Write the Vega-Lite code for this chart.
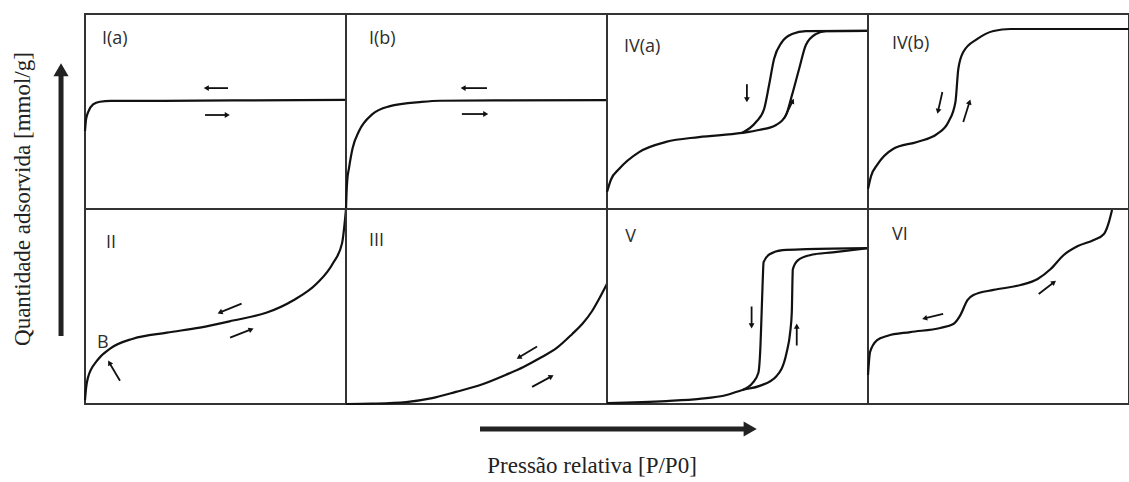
{
  "$schema": "https://vega.github.io/schema/vega-lite/v6.json",
  "padding": {"left": 0, "top": 13, "right": 0, "bottom": 0},
  "background": "white",
  "columns": 5,
  "spacing": 0,
  "bounds": "flush",
  "config": {
    "view": {"stroke": "#333333", "strokeWidth": 2},
    "concat": {"spacing": 0},
    "line": {"interpolate": "monotone", "strokeWidth": 2.2, "color": "#111111"},
    "rule": {"strokeWidth": 1.8, "color": "#111111"},
    "point": {"shape": "triangle", "filled": true, "size": 34, "color": "#111111", "opacity": 1},
    "text": {"align": "left", "baseline": "middle", "font": "Open Sans", "fontSize": 18, "color": "#2e2e2e"}
  },
  "datasets": {
    "typeIa": [
      {"kind": "curve", "branch": "a", "x": 0, "y": 0.40},
      {"kind": "curve", "branch": "a", "x": 0.004, "y": 0.46},
      {"kind": "curve", "branch": "a", "x": 0.012, "y": 0.497},
      {"kind": "curve", "branch": "a", "x": 0.031, "y": 0.536},
      {"kind": "curve", "branch": "a", "x": 0.057, "y": 0.55},
      {"kind": "curve", "branch": "a", "x": 0.1, "y": 0.554},
      {"kind": "curve", "branch": "a", "x": 0.3, "y": 0.555},
      {"kind": "curve", "branch": "a", "x": 0.6, "y": 0.557},
      {"kind": "curve", "branch": "a", "x": 1, "y": 0.56},
      {"kind": "arrow", "x": 0.548, "y": 0.62, "x2": 0.468, "y2": 0.62, "angle": 270},
      {"kind": "arrow", "x": 0.46, "y": 0.482, "x2": 0.542, "y2": 0.482, "angle": 90},
      {"kind": "label", "x": 0.065, "y": 0.87, "label": "I(a)"}
    ],
    "typeIb": [
      {"kind": "curve", "branch": "a", "x": 0, "y": 0},
      {"kind": "curve", "branch": "a", "x": 0.002, "y": 0.08},
      {"kind": "curve", "branch": "a", "x": 0.005, "y": 0.15},
      {"kind": "curve", "branch": "a", "x": 0.0115, "y": 0.21},
      {"kind": "curve", "branch": "a", "x": 0.025, "y": 0.31},
      {"kind": "curve", "branch": "a", "x": 0.05, "y": 0.40},
      {"kind": "curve", "branch": "a", "x": 0.1, "y": 0.485},
      {"kind": "curve", "branch": "a", "x": 0.165, "y": 0.526},
      {"kind": "curve", "branch": "a", "x": 0.29, "y": 0.549},
      {"kind": "curve", "branch": "a", "x": 0.36, "y": 0.555},
      {"kind": "curve", "branch": "a", "x": 0.6, "y": 0.557},
      {"kind": "curve", "branch": "a", "x": 1, "y": 0.558},
      {"kind": "arrow", "x": 0.54, "y": 0.62, "x2": 0.452, "y2": 0.62, "angle": 270},
      {"kind": "arrow", "x": 0.444, "y": 0.487, "x2": 0.532, "y2": 0.487, "angle": 90},
      {"kind": "label", "x": 0.088, "y": 0.87, "label": "I(b)"}
    ],
    "typeIVa": [
      {"kind": "curve", "branch": "ads", "x": 0, "y": 0.087},
      {"kind": "curve", "branch": "ads", "x": 0.015, "y": 0.15},
      {"kind": "curve", "branch": "ads", "x": 0.046, "y": 0.205},
      {"kind": "curve", "branch": "ads", "x": 0.123, "y": 0.292},
      {"kind": "curve", "branch": "ads", "x": 0.226, "y": 0.344},
      {"kind": "curve", "branch": "ads", "x": 0.352, "y": 0.369},
      {"kind": "curve", "branch": "ads", "x": 0.517, "y": 0.39},
      {"kind": "curve", "branch": "ads", "x": 0.582, "y": 0.405},
      {"kind": "curve", "branch": "ads", "x": 0.648, "y": 0.431},
      {"kind": "curve", "branch": "ads", "x": 0.686, "y": 0.482},
      {"kind": "curve", "branch": "ads", "x": 0.709, "y": 0.585},
      {"kind": "curve", "branch": "ads", "x": 0.736, "y": 0.718},
      {"kind": "curve", "branch": "ads", "x": 0.762, "y": 0.841},
      {"kind": "curve", "branch": "ads", "x": 0.8, "y": 0.897},
      {"kind": "curve", "branch": "ads", "x": 0.839, "y": 0.912},
      {"kind": "curve", "branch": "ads", "x": 1, "y": 0.913},
      {"kind": "curve", "branch": "des", "x": 0.517, "y": 0.39},
      {"kind": "curve", "branch": "des", "x": 0.571, "y": 0.446},
      {"kind": "curve", "branch": "des", "x": 0.602, "y": 0.513},
      {"kind": "curve", "branch": "des", "x": 0.621, "y": 0.636},
      {"kind": "curve", "branch": "des", "x": 0.64, "y": 0.769},
      {"kind": "curve", "branch": "des", "x": 0.67, "y": 0.856},
      {"kind": "curve", "branch": "des", "x": 0.709, "y": 0.897},
      {"kind": "curve", "branch": "des", "x": 0.762, "y": 0.912},
      {"kind": "curve", "branch": "des", "x": 1, "y": 0.913},
      {"kind": "arrow", "x": 0.536, "y": 0.64, "x2": 0.536, "y2": 0.565, "angle": 180},
      {"kind": "arrow", "x": 0.678, "y": 0.462, "x2": 0.71, "y2": 0.55, "angle": 26},
      {"kind": "label", "x": 0.065, "y": 0.83, "label": "IV(a)"}
    ],
    "typeIVb": [
      {"kind": "curve", "branch": "a", "x": 0, "y": 0.103},
      {"kind": "curve", "branch": "a", "x": 0.012, "y": 0.17},
      {"kind": "curve", "branch": "a", "x": 0.035, "y": 0.226},
      {"kind": "curve", "branch": "a", "x": 0.096, "y": 0.308},
      {"kind": "curve", "branch": "a", "x": 0.188, "y": 0.344},
      {"kind": "curve", "branch": "a", "x": 0.265, "y": 0.385},
      {"kind": "curve", "branch": "a", "x": 0.308, "y": 0.446},
      {"kind": "curve", "branch": "a", "x": 0.335, "y": 0.549},
      {"kind": "curve", "branch": "a", "x": 0.346, "y": 0.718},
      {"kind": "curve", "branch": "a", "x": 0.365, "y": 0.805},
      {"kind": "curve", "branch": "a", "x": 0.419, "y": 0.872},
      {"kind": "curve", "branch": "a", "x": 0.481, "y": 0.913},
      {"kind": "curve", "branch": "a", "x": 0.546, "y": 0.923},
      {"kind": "curve", "branch": "a", "x": 1, "y": 0.923},
      {"kind": "arrow", "x": 0.285, "y": 0.6, "x2": 0.269, "y2": 0.505, "angle": 193},
      {"kind": "arrow", "x": 0.365, "y": 0.446, "x2": 0.388, "y2": 0.545, "angle": 18},
      {"kind": "label", "x": 0.092, "y": 0.846, "label": "IV(b)"}
    ],
    "typeII": [
      {"kind": "curve", "branch": "a", "x": 0, "y": 0.02},
      {"kind": "curve", "branch": "a", "x": 0.004, "y": 0.08},
      {"kind": "curve", "branch": "a", "x": 0.011, "y": 0.134},
      {"kind": "curve", "branch": "a", "x": 0.046, "y": 0.222},
      {"kind": "curve", "branch": "a", "x": 0.096, "y": 0.284},
      {"kind": "curve", "branch": "a", "x": 0.184, "y": 0.335},
      {"kind": "curve", "branch": "a", "x": 0.314, "y": 0.366},
      {"kind": "curve", "branch": "a", "x": 0.44, "y": 0.392},
      {"kind": "curve", "branch": "a", "x": 0.567, "y": 0.428},
      {"kind": "curve", "branch": "a", "x": 0.697, "y": 0.469},
      {"kind": "curve", "branch": "a", "x": 0.797, "y": 0.531},
      {"kind": "curve", "branch": "a", "x": 0.889, "y": 0.619},
      {"kind": "curve", "branch": "a", "x": 0.95, "y": 0.722},
      {"kind": "curve", "branch": "a", "x": 0.985, "y": 0.825},
      {"kind": "curve", "branch": "a", "x": 0.996, "y": 0.943},
      {"kind": "curve", "branch": "a", "x": 1, "y": 1},
      {"kind": "arrow", "x": 0.6, "y": 0.515, "x2": 0.52, "y2": 0.471, "angle": 247},
      {"kind": "arrow", "x": 0.556, "y": 0.34, "x2": 0.634, "y2": 0.381, "angle": 68},
      {"kind": "arrow", "x": 0.134, "y": 0.119, "x2": 0.095, "y2": 0.208, "angle": 330},
      {"kind": "label", "x": 0.08, "y": 0.825, "label": "II"},
      {"kind": "label", "x": 0.046, "y": 0.314, "label": "B"}
    ],
    "typeIII": [
      {"kind": "curve", "branch": "a", "x": 0, "y": 0},
      {"kind": "curve", "branch": "a", "x": 0.1, "y": 0.002},
      {"kind": "curve", "branch": "a", "x": 0.23, "y": 0.01},
      {"kind": "curve", "branch": "a", "x": 0.33, "y": 0.03},
      {"kind": "curve", "branch": "a", "x": 0.421, "y": 0.062},
      {"kind": "curve", "branch": "a", "x": 0.52, "y": 0.1},
      {"kind": "curve", "branch": "a", "x": 0.613, "y": 0.15},
      {"kind": "curve", "branch": "a", "x": 0.68, "y": 0.19},
      {"kind": "curve", "branch": "a", "x": 0.74, "y": 0.233},
      {"kind": "curve", "branch": "a", "x": 0.81, "y": 0.29},
      {"kind": "curve", "branch": "a", "x": 0.866, "y": 0.358},
      {"kind": "curve", "branch": "a", "x": 0.905, "y": 0.41},
      {"kind": "curve", "branch": "a", "x": 0.943, "y": 0.477},
      {"kind": "curve", "branch": "a", "x": 0.97, "y": 0.54},
      {"kind": "curve", "branch": "a", "x": 1, "y": 0.617},
      {"kind": "arrow", "x": 0.732, "y": 0.295, "x2": 0.665, "y2": 0.241, "angle": 239},
      {"kind": "arrow", "x": 0.713, "y": 0.088, "x2": 0.784, "y2": 0.139, "angle": 62},
      {"kind": "label", "x": 0.088, "y": 0.834, "label": "III"}
    ],
    "typeV": [
      {"kind": "curve", "branch": "ads", "x": 0, "y": 0.005},
      {"kind": "curve", "branch": "ads", "x": 0.227, "y": 0.015},
      {"kind": "curve", "branch": "ads", "x": 0.354, "y": 0.026},
      {"kind": "curve", "branch": "ads", "x": 0.458, "y": 0.046},
      {"kind": "curve", "branch": "ads", "x": 0.519, "y": 0.072},
      {"kind": "curve", "branch": "ads", "x": 0.585, "y": 0.093},
      {"kind": "curve", "branch": "ads", "x": 0.65, "y": 0.144},
      {"kind": "curve", "branch": "ads", "x": 0.688, "y": 0.263},
      {"kind": "curve", "branch": "ads", "x": 0.702, "y": 0.37},
      {"kind": "curve", "branch": "ads", "x": 0.708, "y": 0.469},
      {"kind": "curve", "branch": "ads", "x": 0.712, "y": 0.691},
      {"kind": "curve", "branch": "ads", "x": 0.731, "y": 0.737},
      {"kind": "curve", "branch": "ads", "x": 0.777, "y": 0.763},
      {"kind": "curve", "branch": "ads", "x": 0.865, "y": 0.778},
      {"kind": "curve", "branch": "ads", "x": 1, "y": 0.799},
      {"kind": "curve", "branch": "des", "x": 0.519, "y": 0.072},
      {"kind": "curve", "branch": "des", "x": 0.558, "y": 0.108},
      {"kind": "curve", "branch": "des", "x": 0.58, "y": 0.16},
      {"kind": "curve", "branch": "des", "x": 0.588, "y": 0.3},
      {"kind": "curve", "branch": "des", "x": 0.592, "y": 0.45},
      {"kind": "curve", "branch": "des", "x": 0.596, "y": 0.608},
      {"kind": "curve", "branch": "des", "x": 0.6, "y": 0.727},
      {"kind": "curve", "branch": "des", "x": 0.623, "y": 0.768},
      {"kind": "curve", "branch": "des", "x": 0.673, "y": 0.789},
      {"kind": "curve", "branch": "des", "x": 0.765, "y": 0.794},
      {"kind": "curve", "branch": "des", "x": 1, "y": 0.799},
      {"kind": "arrow", "x": 0.554, "y": 0.5, "x2": 0.554, "y2": 0.405, "angle": 180},
      {"kind": "arrow", "x": 0.727, "y": 0.3, "x2": 0.727, "y2": 0.395, "angle": 0},
      {"kind": "label", "x": 0.07, "y": 0.856, "label": "V"}
    ],
    "typeVI": [
      {"kind": "curve", "branch": "a", "x": 0, "y": 0.149},
      {"kind": "curve", "branch": "a", "x": 0.008, "y": 0.267},
      {"kind": "curve", "branch": "a", "x": 0.035, "y": 0.328},
      {"kind": "curve", "branch": "a", "x": 0.073, "y": 0.349},
      {"kind": "curve", "branch": "a", "x": 0.162, "y": 0.369},
      {"kind": "curve", "branch": "a", "x": 0.277, "y": 0.39},
      {"kind": "curve", "branch": "a", "x": 0.327, "y": 0.41},
      {"kind": "curve", "branch": "a", "x": 0.354, "y": 0.456},
      {"kind": "curve", "branch": "a", "x": 0.381, "y": 0.533},
      {"kind": "curve", "branch": "a", "x": 0.404, "y": 0.559},
      {"kind": "curve", "branch": "a", "x": 0.481, "y": 0.585},
      {"kind": "curve", "branch": "a", "x": 0.585, "y": 0.61},
      {"kind": "curve", "branch": "a", "x": 0.65, "y": 0.641},
      {"kind": "curve", "branch": "a", "x": 0.7, "y": 0.692},
      {"kind": "curve", "branch": "a", "x": 0.75, "y": 0.764},
      {"kind": "curve", "branch": "a", "x": 0.804, "y": 0.81},
      {"kind": "curve", "branch": "a", "x": 0.865, "y": 0.841},
      {"kind": "curve", "branch": "a", "x": 0.904, "y": 0.872},
      {"kind": "curve", "branch": "a", "x": 0.923, "y": 0.933},
      {"kind": "curve", "branch": "a", "x": 0.935, "y": 0.995},
      {"kind": "arrow", "x": 0.288, "y": 0.462, "x2": 0.22, "y2": 0.44, "angle": 256},
      {"kind": "arrow", "x": 0.654, "y": 0.564, "x2": 0.71, "y2": 0.622, "angle": 52},
      {"kind": "label", "x": 0.092, "y": 0.867, "label": "VI"}
    ]
  },
  "concat": [
    {
      "width": 85,
      "height": 195,
      "view": {"stroke": null},
      "layer": [
        {
          "data": {"values": [{"x": 0.718, "y": -0.651, "x2": 0.718, "y2": 0.682}]},
          "mark": {"type": "rule", "strokeWidth": 5, "color": "#222222"},
          "encoding": {
            "x": {"field": "x", "type": "quantitative", "scale": {"domain": [0, 1]}, "axis": null},
            "y": {"field": "y", "type": "quantitative", "scale": {"domain": [0, 1]}, "axis": null},
            "x2": {"field": "x2"}, "y2": {"field": "y2"}
          }
        },
        {
          "data": {"values": [{"x": 0.718, "y": 0.703, "angle": 0}]},
          "mark": {"type": "point", "size": 230, "color": "#222222"},
          "encoding": {
            "x": {"field": "x", "type": "quantitative", "scale": {"domain": [0, 1]}, "axis": null},
            "y": {"field": "y", "type": "quantitative", "scale": {"domain": [0, 1]}, "axis": null},
            "angle": {"field": "angle", "type": "quantitative", "scale": null}
          }
        }
      ]
    },
    {"width": 261, "height": 195, "data": {"name": "typeIa"}, "layer": [
      {"transform": [{"filter": "datum.kind === 'curve'"}], "mark": "line", "encoding": {"x": {"field": "x", "type": "quantitative", "scale": {"domain": [0, 1]}, "axis": null}, "y": {"field": "y", "type": "quantitative", "scale": {"domain": [0, 1]}, "axis": null}, "detail": {"field": "branch"}}},
      {"transform": [{"filter": "datum.kind === 'arrow'"}], "mark": "rule", "encoding": {"x": {"field": "x", "type": "quantitative", "scale": {"domain": [0, 1]}, "axis": null}, "y": {"field": "y", "type": "quantitative", "scale": {"domain": [0, 1]}, "axis": null}, "x2": {"field": "x2"}, "y2": {"field": "y2"}}},
      {"transform": [{"filter": "datum.kind === 'arrow'"}], "mark": "point", "encoding": {"x": {"field": "x2", "type": "quantitative", "scale": {"domain": [0, 1]}, "axis": null}, "y": {"field": "y2", "type": "quantitative", "scale": {"domain": [0, 1]}, "axis": null}, "angle": {"field": "angle", "type": "quantitative", "scale": null}}},
      {"transform": [{"filter": "datum.kind === 'label'"}], "mark": "text", "encoding": {"x": {"field": "x", "type": "quantitative", "scale": {"domain": [0, 1]}, "axis": null}, "y": {"field": "y", "type": "quantitative", "scale": {"domain": [0, 1]}, "axis": null}, "text": {"field": "label"}}}
    ]},
    {"width": 261, "height": 195, "data": {"name": "typeIb"}, "layer": [
      {"transform": [{"filter": "datum.kind === 'curve'"}], "mark": "line", "encoding": {"x": {"field": "x", "type": "quantitative", "scale": {"domain": [0, 1]}, "axis": null}, "y": {"field": "y", "type": "quantitative", "scale": {"domain": [0, 1]}, "axis": null}, "detail": {"field": "branch"}}},
      {"transform": [{"filter": "datum.kind === 'arrow'"}], "mark": "rule", "encoding": {"x": {"field": "x", "type": "quantitative", "scale": {"domain": [0, 1]}, "axis": null}, "y": {"field": "y", "type": "quantitative", "scale": {"domain": [0, 1]}, "axis": null}, "x2": {"field": "x2"}, "y2": {"field": "y2"}}},
      {"transform": [{"filter": "datum.kind === 'arrow'"}], "mark": "point", "encoding": {"x": {"field": "x2", "type": "quantitative", "scale": {"domain": [0, 1]}, "axis": null}, "y": {"field": "y2", "type": "quantitative", "scale": {"domain": [0, 1]}, "axis": null}, "angle": {"field": "angle", "type": "quantitative", "scale": null}}},
      {"transform": [{"filter": "datum.kind === 'label'"}], "mark": "text", "encoding": {"x": {"field": "x", "type": "quantitative", "scale": {"domain": [0, 1]}, "axis": null}, "y": {"field": "y", "type": "quantitative", "scale": {"domain": [0, 1]}, "axis": null}, "text": {"field": "label"}}}
    ]},
    {"width": 261, "height": 195, "data": {"name": "typeIVa"}, "layer": [
      {"transform": [{"filter": "datum.kind === 'curve'"}], "mark": "line", "encoding": {"x": {"field": "x", "type": "quantitative", "scale": {"domain": [0, 1]}, "axis": null}, "y": {"field": "y", "type": "quantitative", "scale": {"domain": [0, 1]}, "axis": null}, "detail": {"field": "branch"}}},
      {"transform": [{"filter": "datum.kind === 'arrow'"}], "mark": "rule", "encoding": {"x": {"field": "x", "type": "quantitative", "scale": {"domain": [0, 1]}, "axis": null}, "y": {"field": "y", "type": "quantitative", "scale": {"domain": [0, 1]}, "axis": null}, "x2": {"field": "x2"}, "y2": {"field": "y2"}}},
      {"transform": [{"filter": "datum.kind === 'arrow'"}], "mark": "point", "encoding": {"x": {"field": "x2", "type": "quantitative", "scale": {"domain": [0, 1]}, "axis": null}, "y": {"field": "y2", "type": "quantitative", "scale": {"domain": [0, 1]}, "axis": null}, "angle": {"field": "angle", "type": "quantitative", "scale": null}}},
      {"transform": [{"filter": "datum.kind === 'label'"}], "mark": "text", "encoding": {"x": {"field": "x", "type": "quantitative", "scale": {"domain": [0, 1]}, "axis": null}, "y": {"field": "y", "type": "quantitative", "scale": {"domain": [0, 1]}, "axis": null}, "text": {"field": "label"}}}
    ]},
    {"width": 261, "height": 195, "data": {"name": "typeIVb"}, "layer": [
      {"transform": [{"filter": "datum.kind === 'curve'"}], "mark": "line", "encoding": {"x": {"field": "x", "type": "quantitative", "scale": {"domain": [0, 1]}, "axis": null}, "y": {"field": "y", "type": "quantitative", "scale": {"domain": [0, 1]}, "axis": null}, "detail": {"field": "branch"}}},
      {"transform": [{"filter": "datum.kind === 'arrow'"}], "mark": "rule", "encoding": {"x": {"field": "x", "type": "quantitative", "scale": {"domain": [0, 1]}, "axis": null}, "y": {"field": "y", "type": "quantitative", "scale": {"domain": [0, 1]}, "axis": null}, "x2": {"field": "x2"}, "y2": {"field": "y2"}}},
      {"transform": [{"filter": "datum.kind === 'arrow'"}], "mark": "point", "encoding": {"x": {"field": "x2", "type": "quantitative", "scale": {"domain": [0, 1]}, "axis": null}, "y": {"field": "y2", "type": "quantitative", "scale": {"domain": [0, 1]}, "axis": null}, "angle": {"field": "angle", "type": "quantitative", "scale": null}}},
      {"transform": [{"filter": "datum.kind === 'label'"}], "mark": "text", "encoding": {"x": {"field": "x", "type": "quantitative", "scale": {"domain": [0, 1]}, "axis": null}, "y": {"field": "y", "type": "quantitative", "scale": {"domain": [0, 1]}, "axis": null}, "text": {"field": "label"}}}
    ]},
    {
      "width": 85,
      "height": 195,
      "view": {"stroke": null},
      "data": {"values": [{"x": 0.27, "y": 1.051, "label": "Quantidade adsorvida [mmol/g]"}]},
      "mark": {"type": "text", "angle": 270, "align": "center", "font": "Liberation Serif", "fontSize": 23, "color": "#222222"},
      "encoding": {
        "x": {"field": "x", "type": "quantitative", "scale": {"domain": [0, 1]}, "axis": null},
        "y": {"field": "y", "type": "quantitative", "scale": {"domain": [0, 1]}, "axis": null},
        "text": {"field": "label"}
      }
    },
    {"width": 261, "height": 195, "data": {"name": "typeII"}, "layer": [
      {"transform": [{"filter": "datum.kind === 'curve'"}], "mark": "line", "encoding": {"x": {"field": "x", "type": "quantitative", "scale": {"domain": [0, 1]}, "axis": null}, "y": {"field": "y", "type": "quantitative", "scale": {"domain": [0, 1]}, "axis": null}, "detail": {"field": "branch"}}},
      {"transform": [{"filter": "datum.kind === 'arrow'"}], "mark": "rule", "encoding": {"x": {"field": "x", "type": "quantitative", "scale": {"domain": [0, 1]}, "axis": null}, "y": {"field": "y", "type": "quantitative", "scale": {"domain": [0, 1]}, "axis": null}, "x2": {"field": "x2"}, "y2": {"field": "y2"}}},
      {"transform": [{"filter": "datum.kind === 'arrow'"}], "mark": "point", "encoding": {"x": {"field": "x2", "type": "quantitative", "scale": {"domain": [0, 1]}, "axis": null}, "y": {"field": "y2", "type": "quantitative", "scale": {"domain": [0, 1]}, "axis": null}, "angle": {"field": "angle", "type": "quantitative", "scale": null}}},
      {"transform": [{"filter": "datum.kind === 'label'"}], "mark": "text", "encoding": {"x": {"field": "x", "type": "quantitative", "scale": {"domain": [0, 1]}, "axis": null}, "y": {"field": "y", "type": "quantitative", "scale": {"domain": [0, 1]}, "axis": null}, "text": {"field": "label"}}}
    ]},
    {"width": 261, "height": 195, "data": {"name": "typeIII"}, "layer": [
      {"transform": [{"filter": "datum.kind === 'curve'"}], "mark": "line", "encoding": {"x": {"field": "x", "type": "quantitative", "scale": {"domain": [0, 1]}, "axis": null}, "y": {"field": "y", "type": "quantitative", "scale": {"domain": [0, 1]}, "axis": null}, "detail": {"field": "branch"}}},
      {"transform": [{"filter": "datum.kind === 'arrow'"}], "mark": "rule", "encoding": {"x": {"field": "x", "type": "quantitative", "scale": {"domain": [0, 1]}, "axis": null}, "y": {"field": "y", "type": "quantitative", "scale": {"domain": [0, 1]}, "axis": null}, "x2": {"field": "x2"}, "y2": {"field": "y2"}}},
      {"transform": [{"filter": "datum.kind === 'arrow'"}], "mark": "point", "encoding": {"x": {"field": "x2", "type": "quantitative", "scale": {"domain": [0, 1]}, "axis": null}, "y": {"field": "y2", "type": "quantitative", "scale": {"domain": [0, 1]}, "axis": null}, "angle": {"field": "angle", "type": "quantitative", "scale": null}}},
      {"transform": [{"filter": "datum.kind === 'label'"}], "mark": "text", "encoding": {"x": {"field": "x", "type": "quantitative", "scale": {"domain": [0, 1]}, "axis": null}, "y": {"field": "y", "type": "quantitative", "scale": {"domain": [0, 1]}, "axis": null}, "text": {"field": "label"}}}
    ]},
    {"width": 261, "height": 195, "data": {"name": "typeV"}, "layer": [
      {"transform": [{"filter": "datum.kind === 'curve'"}], "mark": "line", "encoding": {"x": {"field": "x", "type": "quantitative", "scale": {"domain": [0, 1]}, "axis": null}, "y": {"field": "y", "type": "quantitative", "scale": {"domain": [0, 1]}, "axis": null}, "detail": {"field": "branch"}}},
      {"transform": [{"filter": "datum.kind === 'arrow'"}], "mark": "rule", "encoding": {"x": {"field": "x", "type": "quantitative", "scale": {"domain": [0, 1]}, "axis": null}, "y": {"field": "y", "type": "quantitative", "scale": {"domain": [0, 1]}, "axis": null}, "x2": {"field": "x2"}, "y2": {"field": "y2"}}},
      {"transform": [{"filter": "datum.kind === 'arrow'"}], "mark": "point", "encoding": {"x": {"field": "x2", "type": "quantitative", "scale": {"domain": [0, 1]}, "axis": null}, "y": {"field": "y2", "type": "quantitative", "scale": {"domain": [0, 1]}, "axis": null}, "angle": {"field": "angle", "type": "quantitative", "scale": null}}},
      {"transform": [{"filter": "datum.kind === 'label'"}], "mark": "text", "encoding": {"x": {"field": "x", "type": "quantitative", "scale": {"domain": [0, 1]}, "axis": null}, "y": {"field": "y", "type": "quantitative", "scale": {"domain": [0, 1]}, "axis": null}, "text": {"field": "label"}}}
    ]},
    {"width": 261, "height": 195, "data": {"name": "typeVI"}, "layer": [
      {"transform": [{"filter": "datum.kind === 'curve'"}], "mark": "line", "encoding": {"x": {"field": "x", "type": "quantitative", "scale": {"domain": [0, 1]}, "axis": null}, "y": {"field": "y", "type": "quantitative", "scale": {"domain": [0, 1]}, "axis": null}, "detail": {"field": "branch"}}},
      {"transform": [{"filter": "datum.kind === 'arrow'"}], "mark": "rule", "encoding": {"x": {"field": "x", "type": "quantitative", "scale": {"domain": [0, 1]}, "axis": null}, "y": {"field": "y", "type": "quantitative", "scale": {"domain": [0, 1]}, "axis": null}, "x2": {"field": "x2"}, "y2": {"field": "y2"}}},
      {"transform": [{"filter": "datum.kind === 'arrow'"}], "mark": "point", "encoding": {"x": {"field": "x2", "type": "quantitative", "scale": {"domain": [0, 1]}, "axis": null}, "y": {"field": "y2", "type": "quantitative", "scale": {"domain": [0, 1]}, "axis": null}, "angle": {"field": "angle", "type": "quantitative", "scale": null}}},
      {"transform": [{"filter": "datum.kind === 'label'"}], "mark": "text", "encoding": {"x": {"field": "x", "type": "quantitative", "scale": {"domain": [0, 1]}, "axis": null}, "y": {"field": "y", "type": "quantitative", "scale": {"domain": [0, 1]}, "axis": null}, "text": {"field": "label"}}}
    ]},
    {
      "width": 85,
      "height": 79,
      "view": {"stroke": null},
      "layer": [
        {
          "data": {"values": [{"x": 5.647, "y": 0.684, "x2": 8.765, "y2": 0.684}]},
          "mark": {"type": "rule", "strokeWidth": 5, "color": "#222222"},
          "encoding": {
            "x": {"field": "x", "type": "quantitative", "scale": {"domain": [0, 1]}, "axis": null},
            "y": {"field": "y", "type": "quantitative", "scale": {"domain": [0, 1]}, "axis": null},
            "x2": {"field": "x2"}, "y2": {"field": "y2"}
          }
        },
        {
          "data": {"values": [{"x": 8.8, "y": 0.684, "angle": 90}]},
          "mark": {"type": "point", "size": 230, "color": "#222222"},
          "encoding": {
            "x": {"field": "x", "type": "quantitative", "scale": {"domain": [0, 1]}, "axis": null},
            "y": {"field": "y", "type": "quantitative", "scale": {"domain": [0, 1]}, "axis": null},
            "angle": {"field": "angle", "type": "quantitative", "scale": null}
          }
        },
        {
          "data": {"values": [{"x": 6.965, "y": 0.215, "label": "Pressão relativa [P/P0]"}]},
          "mark": {"type": "text", "align": "center", "font": "Liberation Serif", "fontSize": 23, "color": "#222222"},
          "encoding": {
            "x": {"field": "x", "type": "quantitative", "scale": {"domain": [0, 1]}, "axis": null},
            "y": {"field": "y", "type": "quantitative", "scale": {"domain": [0, 1]}, "axis": null},
            "text": {"field": "label"}
          }
        }
      ]
    }
  ]
}
